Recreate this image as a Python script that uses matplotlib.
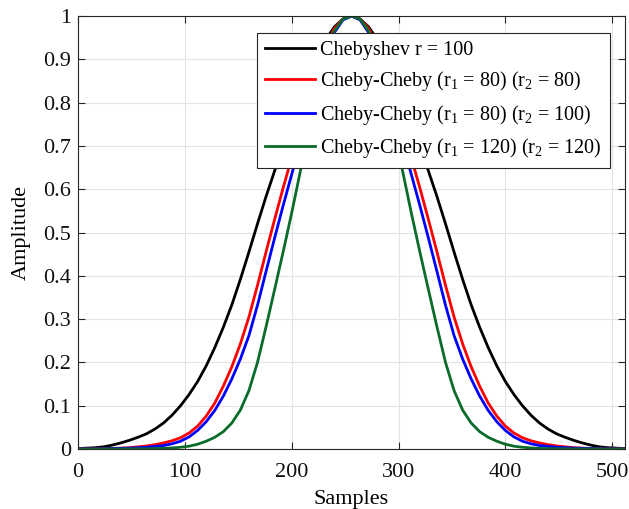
import matplotlib
matplotlib.use("Agg")
import matplotlib.pyplot as plt

samples = list(range(0, 513, 8))

cheb_100 = [0.001, 0.002, 0.003, 0.005, 0.009, 0.014, 0.02, 0.027, 0.035, 0.046, 0.06, 0.078,
            0.1, 0.126, 0.156, 0.192, 0.234, 0.281, 0.333, 0.392, 0.455, 0.52, 0.583, 0.642,
            0.70, 0.757, 0.812, 0.862, 0.907, 0.946, 0.975, 0.993, 1.0,
            0.993, 0.975, 0.946, 0.907, 0.862, 0.812, 0.757, 0.70, 0.642, 0.583, 0.52, 0.455,
            0.392, 0.333, 0.281, 0.234, 0.192, 0.156, 0.126, 0.1, 0.078, 0.06, 0.046, 0.035,
            0.027, 0.02, 0.014, 0.009, 0.005, 0.003, 0.002, 0.001]

cc_80_80 = [0.0, 0.0002, 0.0005, 0.001, 0.0015, 0.002, 0.003, 0.005, 0.007, 0.01, 0.014, 0.019,
            0.026, 0.037, 0.053, 0.076, 0.106, 0.145, 0.19, 0.243, 0.305, 0.378, 0.455, 0.53,
            0.603, 0.672, 0.742, 0.812, 0.877, 0.933, 0.971, 0.993, 1.0,
            0.993, 0.971, 0.933, 0.877, 0.812, 0.742, 0.672, 0.603, 0.53, 0.455, 0.378, 0.305,
            0.243, 0.19, 0.145, 0.106, 0.076, 0.053, 0.037, 0.026, 0.019, 0.014, 0.01, 0.007,
            0.005, 0.003, 0.002, 0.0015, 0.001, 0.0005, 0.0002, 0.0]

cc_80_100 = [0.0, 0.0001, 0.0003, 0.0006, 0.001, 0.0015, 0.002, 0.003, 0.004, 0.006, 0.008, 0.012,
             0.018, 0.028, 0.043, 0.063, 0.089, 0.122, 0.162, 0.208, 0.262, 0.332, 0.41, 0.487,
             0.562, 0.634, 0.705, 0.777, 0.847, 0.91, 0.962, 0.991, 1.0,
             0.991, 0.962, 0.91, 0.847, 0.777, 0.705, 0.634, 0.562, 0.487, 0.41, 0.332, 0.262,
             0.208, 0.162, 0.122, 0.089, 0.063, 0.043, 0.028, 0.018, 0.012, 0.008, 0.006, 0.004,
             0.003, 0.002, 0.0015, 0.001, 0.0006, 0.0003, 0.0001, 0.0]

cc_120_120 = [0.0, 0.0, 0.0, 0.0001, 0.0001, 0.0002, 0.0003, 0.0005, 0.0007, 0.001, 0.0015, 0.0025,
              0.004, 0.0065, 0.011, 0.018, 0.027, 0.04, 0.06, 0.09, 0.135, 0.2, 0.282, 0.368,
              0.455, 0.545, 0.64, 0.735, 0.83, 0.913, 0.966, 0.993, 1.0,
              0.993, 0.966, 0.913, 0.83, 0.735, 0.64, 0.545, 0.455, 0.368, 0.282, 0.2, 0.135,
              0.09, 0.06, 0.04, 0.027, 0.018, 0.011, 0.0065, 0.004, 0.0025, 0.0015, 0.001, 0.0007,
              0.0005, 0.0003, 0.0002, 0.0001, 0.0001, 0.0, 0.0, 0.0]

labels = ["Chebyshev r = 100",
          "Cheby-Cheby (r$_1$ = 80) (r$_2$ = 80)",
          "Cheby-Cheby (r$_1$ = 80) (r$_2$ = 100)",
          "Cheby-Cheby (r$_1$ = 120) (r$_2$ = 120)"]
colors = ["#000000", "#FF0000", "#0000FF", "#0A6B2A"]

x_ticks = [0, 100, 200, 300, 400, 500]
y_ticks = [0, 0.1, 0.2, 0.3, 0.4, 0.5, 0.6, 0.7, 0.8, 0.9, 1.0]
y_tick_labels = ["0", "0.1", "0.2", "0.3", "0.4", "0.5", "0.6", "0.7", "0.8", "0.9", "1"]

plt.rcParams['font.family'] = ['Liberation Serif', 'DejaVu Serif']
plt.rcParams['mathtext.fontset'] = 'custom'
plt.rcParams['mathtext.rm'] = 'Liberation Serif'
plt.rcParams['mathtext.it'] = 'Liberation Serif:italic'

fig = plt.figure(figsize=(6.29, 5.09), dpi=100)
ax = fig.add_axes([78/629, 1-449/509, (625-78)/629, (449-16)/509])

for ys, lab, c in zip([cheb_100, cc_80_80, cc_80_100, cc_120_120], labels, colors):
    ax.plot(samples, ys, color=c, lw=2.0, label=lab)

ax.set_xlim(0, 512)
ax.set_ylim(0, 1)
ax.set_xticks(x_ticks)
ax.set_yticks(y_ticks)
ax.set_yticklabels(y_tick_labels)
ax.grid(True, color="#E3E3E3", lw=0.8)
ax.set_axisbelow(True)
for s in ax.spines.values():
    s.set_color("#262626")
    s.set_linewidth(0.8)
ax.tick_params(direction='in', top=True, right=True, length=5, width=0.8,
               colors="#262626", labelcolor="#111111", labelsize=16)
ax.tick_params(axis='x', pad=10)
ax.tick_params(axis='y', pad=5)
ax.set_xlabel("Samples", fontsize=16, labelpad=6)
ax.set_ylabel("Amplitude", fontsize=16, labelpad=9)

leg = ax.legend(loc='upper right', bbox_to_anchor=((610-78)/547, (449-33)/433),
                borderaxespad=0, fontsize=14.5, fancybox=False, framealpha=1,
                edgecolor="#262626", handlelength=2.5, handletextpad=0.25,
                labelspacing=0.46, borderpad=0.4)
leg.get_frame().set_linewidth(0.8)

fig.savefig("out.png", dpi=100)
